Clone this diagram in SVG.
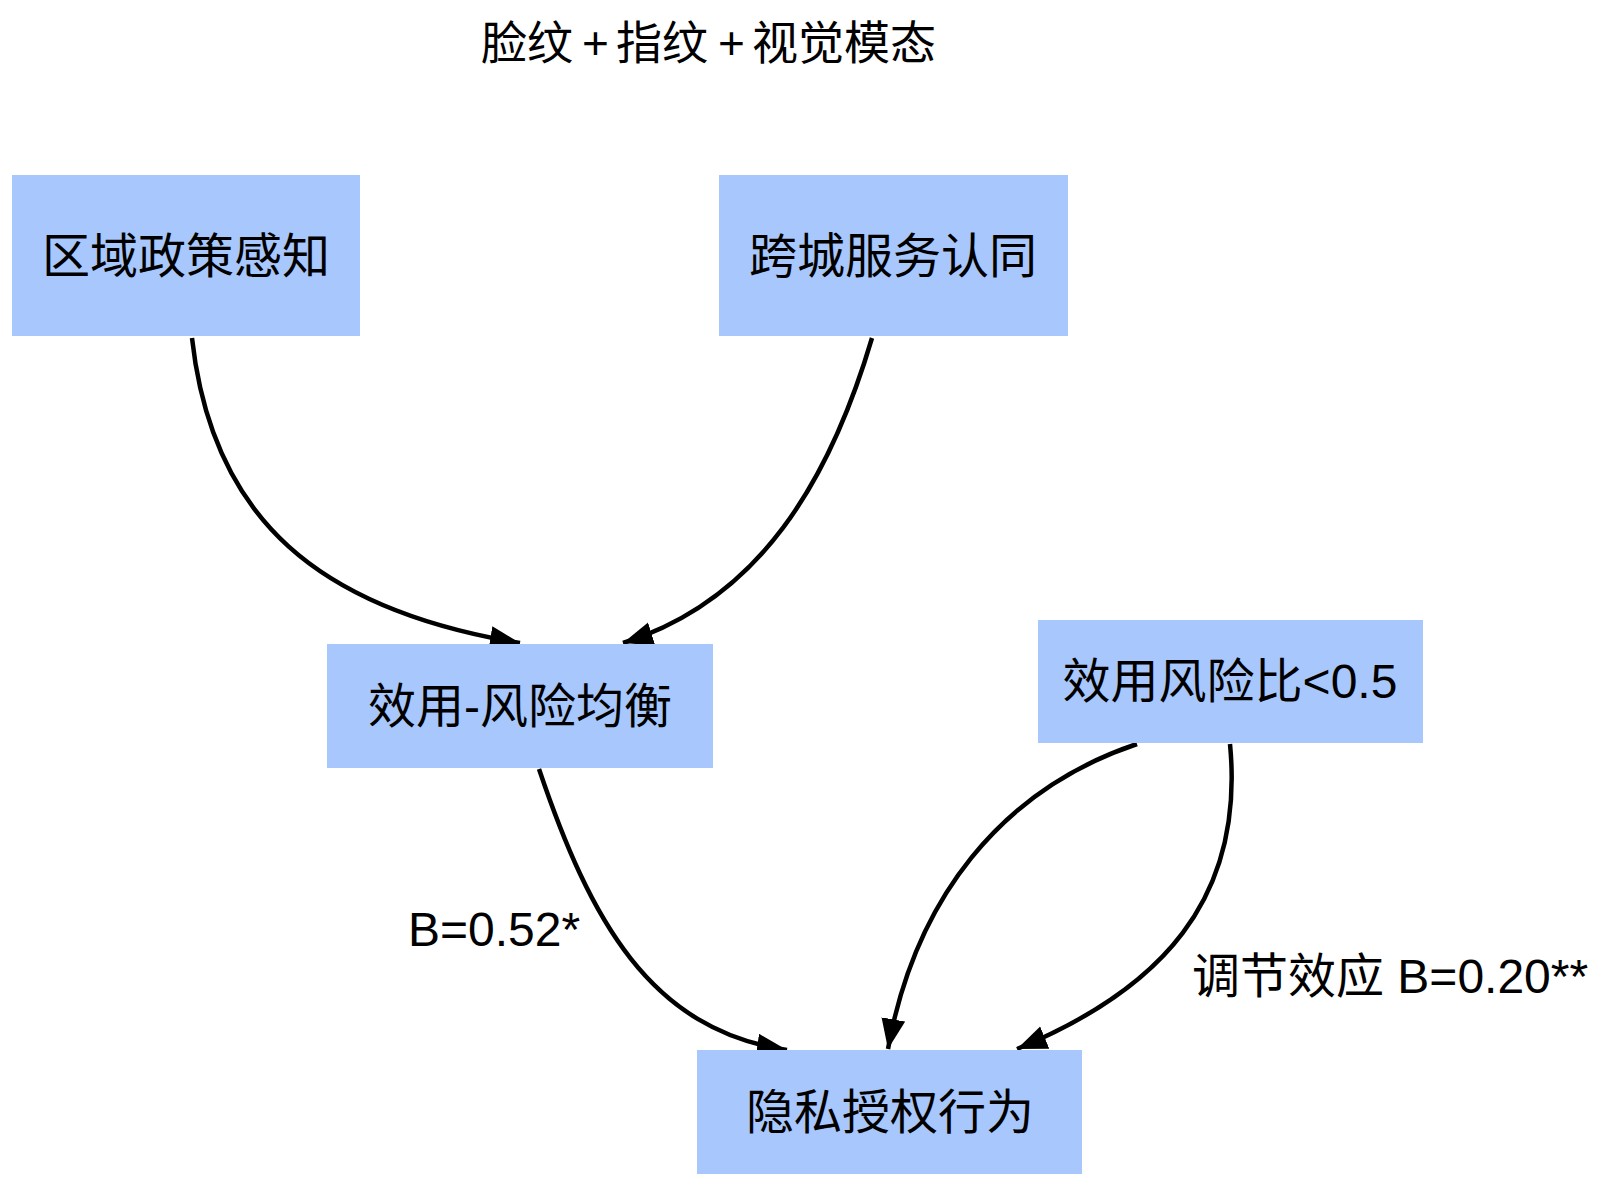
<svg xmlns="http://www.w3.org/2000/svg" width="1600" height="1186" viewBox="0 0 1600 1186">
<style>
text{font-family:"Liberation Sans","Noto Sans CJK SC",sans-serif;fill:#000;}
.n rect{fill:#a8c7fc;}
.n text{font-size:48px;text-anchor:middle;}
.lbl{font-size:48px;}
.e path{fill:none;stroke:#000;stroke-width:4.5;}
</style>
<defs>
<marker id="ah" markerUnits="userSpaceOnUse" markerWidth="32" markerHeight="26" refX="30" refY="12" orient="auto">
<path d="M0,0 L30,12 L0,24 Z" fill="#000"/>
</marker>
</defs>
<rect width="1600" height="1186" fill="#fff"/>
<text y="59" style="font-size:46px"><tspan x="481">脸纹</tspan><tspan x="582">+</tspan><tspan x="616">指纹</tspan><tspan x="718">+</tspan><tspan x="752">视觉模态</tspan></text>
<g id="connectors" class="e">
<path d="M192,338 C212,520 320,610 520,643" marker-end="url(#ah)"/>
<path d="M872,338 C830,480 760,600 623,643" marker-end="url(#ah)"/>
<path d="M539,769 C590,920 650,1030 787,1050" marker-end="url(#ah)"/>
<path d="M1137,744 C1000,790 915,900 888,1049" marker-end="url(#ah)"/>
<path d="M1230,744 C1245,900 1160,990 1017,1049" marker-end="url(#ah)"/>
</g>
<text class="lbl" x="408" y="946">B=0.52*</text>
<text class="lbl" x="1192" y="993">调节效应 B=0.20**</text>
<g id="n1" class="n"><rect x="12" y="175" width="348" height="161"/><text x="186" y="273">区域政策感知</text></g>
<g id="n2" class="n"><rect x="719" y="175" width="349" height="161"/><text x="893" y="273">跨城服务认同</text></g>
<g id="n3" class="n"><rect x="327" y="644" width="386" height="124"/><text x="520" y="723">效用-风险均衡</text></g>
<g id="n4" class="n"><rect x="1038" y="620" width="385" height="123"/><text x="1230" y="698">效用风险比&lt;0.5</text></g>
<g id="n5" class="n"><rect x="697" y="1050" width="385" height="124"/><text x="890" y="1129">隐私授权行为</text></g>
</svg>
